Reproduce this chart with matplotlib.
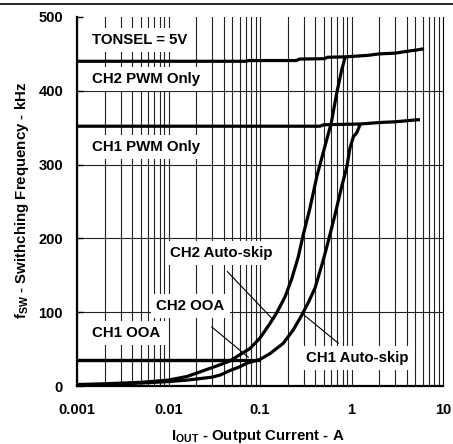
import matplotlib
matplotlib.use("Agg")
import matplotlib.pyplot as plt
from matplotlib.lines import Line2D
from matplotlib.ticker import FixedLocator, NullFormatter

plt.rcParams['font.family'] = ['Liberation Sans', 'DejaVu Sans']
plt.rcParams['font.weight'] = 'bold'
plt.rcParams['mathtext.fontset'] = 'custom'
plt.rcParams['mathtext.bf'] = 'Liberation Sans:bold'
plt.rcParams['mathtext.rm'] = 'Liberation Sans:bold'
plt.rcParams['mathtext.it'] = 'Liberation Sans:bold'

# ---- data ----
ch2_pwm_i = [0.001, 0.07, 0.075, 0.25, 0.27, 0.5, 0.55, 0.85, 1.5, 2.0, 3.0, 4.3, 5.0, 6.2]
ch2_pwm_f = [440, 440, 441, 441, 443, 443.5, 445.5, 446, 448, 450, 451, 454, 455, 457]

ch1_pwm_i = [0.001, 0.45, 0.5, 1.24, 2.0, 3.0, 4.5, 5.6]
ch1_pwm_f = [352, 352, 354, 355, 357, 358, 360, 361]

ch2_skip_i = [0.001, 0.002, 0.005, 0.01, 0.016, 0.022, 0.03, 0.037, 0.047, 0.056, 0.078,
              0.1, 0.129, 0.152, 0.188, 0.222, 0.262, 0.297, 0.35, 0.42, 0.5, 0.6, 0.69,
              0.78, 0.85]
ch2_skip_f = [2, 3, 5, 8, 13, 19, 25, 29, 34, 40, 51, 65, 85, 99, 121, 145, 175, 205, 240,
              285, 320, 356, 397, 428, 445]

ch1_skip_i = [0.001, 0.002, 0.005, 0.01, 0.016, 0.022, 0.03, 0.037, 0.047, 0.06, 0.072,
              0.1, 0.129, 0.18, 0.231, 0.286, 0.337, 0.4, 0.49, 0.557, 0.66, 0.78, 0.89,
              0.96, 1.05, 1.14, 1.24]
ch1_skip_f = [1, 2, 4, 6, 8, 10, 12, 15, 21, 26, 31, 36, 44, 58, 76, 96, 113, 133, 170,
              196, 232, 270, 297, 322, 338, 343, 354]

ch1_ooa_i = [0.001, 0.1]
ch1_ooa_f = [35, 35]
ch2_ooa_i = [0.001, 0.053]
ch2_ooa_f = [35, 35]

x_ticks = [0.001, 0.01, 0.1, 1, 10]
x_tick_labels = ['0.001', '0.01', '0.1', '1', '10']
y_ticks = [0, 100, 200, 300, 400, 500]

# ---- figure ----
W, H = 453, 444
fig = plt.figure(figsize=(W / 100, H / 100), dpi=100)
L, R, T, B = 77, 443, 17, 386
ax = fig.add_axes([L / W, 1 - B / H, (R - L) / W, (B - T) / H])
ax.set_xscale('log')
ax.set_xlim(0.001, 10)
ax.set_ylim(0, 500)

minor = [m * 10.0 ** e for e in range(-3, 1) for m in range(2, 10)]
ax.xaxis.set_major_locator(FixedLocator(x_ticks))
ax.xaxis.set_minor_locator(FixedLocator(minor))
ax.xaxis.set_minor_formatter(NullFormatter())
ax.set_xticks(x_ticks)
ax.set_xticklabels(x_tick_labels)
ax.set_yticks(y_ticks)
ax.set_yticklabels([str(v) for v in y_ticks])

ax.tick_params(axis='x', which='both', length=0, pad=12, labelsize=10.5)
ax.tick_params(axis='y', which='major', direction='in', length=4, width=1,
               pad=10, labelsize=10.5)
for lab in ax.get_xticklabels() + ax.get_yticklabels():
    lab.set_fontweight('bold')

ax.grid(True, axis='x', which='both', color='#222222', linewidth=0.8)
ax.grid(True, axis='y', which='major', color='#222222', linewidth=0.8)
ygl = ax.get_ygridlines()
ygl[0].set_visible(False)
ygl[-1].set_visible(False)
ax.set_axisbelow(True)

ax.spines['top'].set_visible(False)
ax.spines['left'].set_linewidth(1.6)
ax.spines['bottom'].set_linewidth(1.6)
ax.spines['right'].set_linewidth(0.8)

lw = 2.3
for xi, yi in [(ch2_pwm_i, ch2_pwm_f), (ch1_pwm_i, ch1_pwm_f),
               (ch2_skip_i, ch2_skip_f), (ch1_skip_i, ch1_skip_f),
               (ch1_ooa_i, ch1_ooa_f), (ch2_ooa_i, ch2_ooa_f)]:
    ax.plot(xi, yi, color='black', linewidth=lw, solid_capstyle='butt', zorder=5)

box = dict(boxstyle='square,pad=0.33', facecolor='white', edgecolor='none')
fs = 10.8
labels = [('TONSEL = 5V', 0.00489, 469),
          ('CH2 PWM Only', 0.00575, 416),
          ('CH1 PWM Only', 0.00568, 324),
          ('CH2 Auto-skip', 0.0379, 180),
          ('CH2 OOA', 0.0174, 108),
          ('CH1 OOA', 0.00347, 72),
          ('CH1 Auto-skip', 1.163, 38)]
for txt, x, y in labels:
    ax.text(x, y, txt, ha='center', va='center', fontsize=fs, fontweight='bold',
            bbox=box, zorder=4)

leaders = [((0.044, 155), (0.134, 92)),
           ((0.0297, 80), (0.0745, 39)),
           ((0.718, 58), (0.297, 97))]
for (x0, y0), (x1, y1) in leaders:
    ax.plot([x0, x1], [y0, y1], color='black', linewidth=0.8, zorder=3)

fig.text(22 / W, 1 - 200 / H, r'$\mathbf{f}_{\mathbf{SW}}$ - Swithching Frequency - kHz',
         rotation=90, ha='center', va='center', fontsize=10.8, fontweight='bold')
fig.text(258 / W, 1 - 436 / H, r'$\mathbf{I}_{\mathbf{OUT}}$ - Output Current - A',
         ha='center', va='center', fontsize=10.8, fontweight='bold')

fig.add_artist(Line2D([0, 1], [1 - 4.5 / H, 1 - 4.5 / H], color='black', linewidth=1.2,
                      transform=fig.transFigure))

fig.savefig('out.png', dpi=100)
